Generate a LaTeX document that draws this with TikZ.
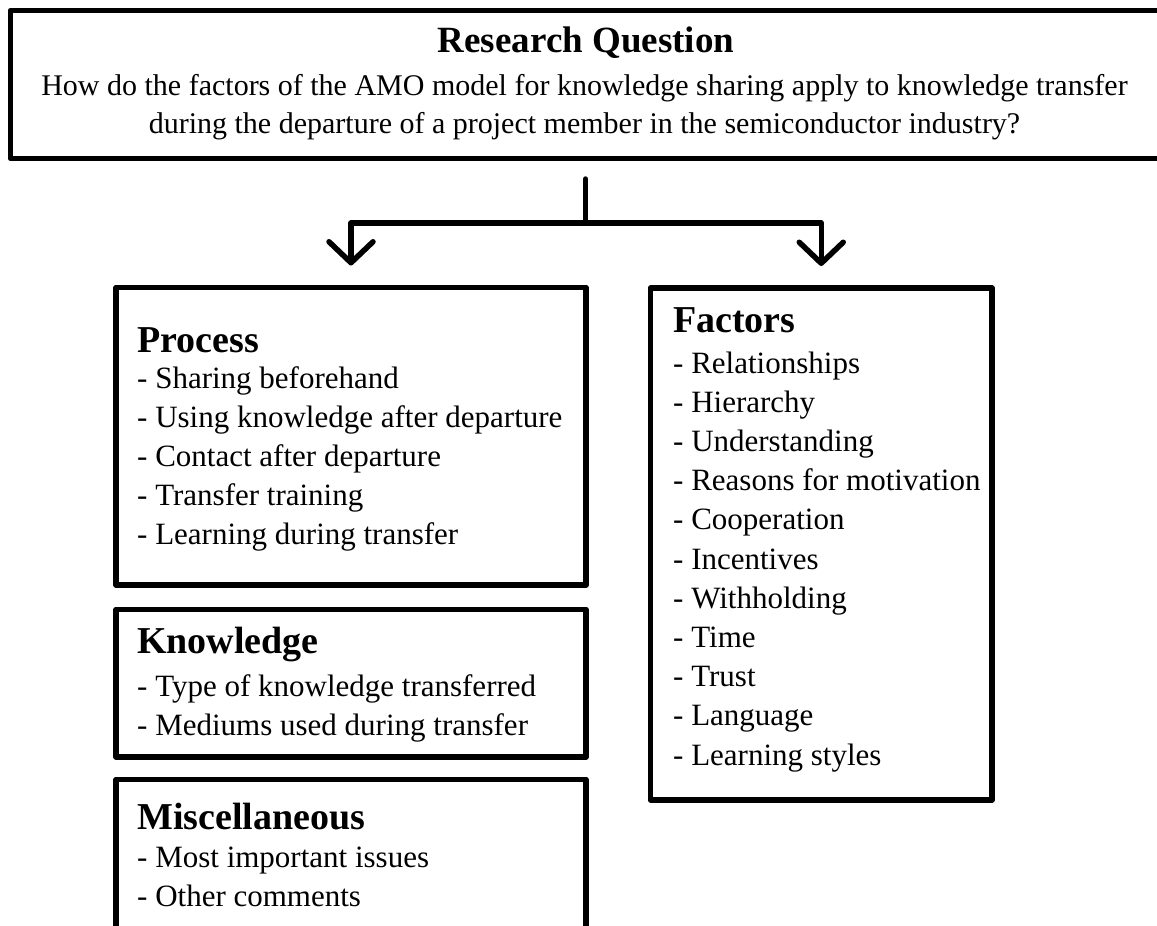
\documentclass[tikz,border=0pt]{standalone}
\usepackage{fontspec}
\setmainfont{Liberation Serif}
\usetikzlibrary{arrows.meta}
\begin{document}
\begin{tikzpicture}[x=1pt,y=-1pt,
  box/.style={draw=black,line width=5.5pt,line join=round,rectangle,inner sep=0pt,outer sep=0pt,fill=none},
  hd/.style={anchor=base west,inner sep=0pt,font=\bfseries\fontsize{38}{40}\selectfont},
  it/.style={anchor=base west,inner sep=0pt,font=\fontsize{31}{38}\selectfont},
  ln/.style={anchor=base,inner sep=0pt,font=\fontsize{30}{38}\selectfont},
  conn/.style={line width=5.5pt,line cap=round,line join=round},
  arr/.style={conn,-{Straight Barb[length=21pt,width=44pt,line cap=round,line join=round]},shorten >=22pt}]
\useasboundingbox (0,0) rectangle (1157,926);
\clip (0,0) rectangle (1157,926);
% boxes
\node[box,minimum width=1165pt,minimum height=148pt] (rq) at (593,84.5) {};
\node[box,minimum width=470pt,minimum height=297.5pt] (p) at (351,436.25) {};
\node[box,minimum width=470pt,minimum height=147.5pt] (k) at (351,683.25) {};
\node[box,minimum width=470pt,minimum height=161pt] (m) at (351,860) {};
\node[box,minimum width=341.5pt,minimum height=512pt] (f) at (821.25,544) {};
% research question
\node[anchor=base,inner sep=0pt,font=\bfseries\fontsize{37}{40}\selectfont] (t0) at (586,52) {Research Question};
\node[ln] (t1) at (584.5,95) {How do the factors of the AMO model for knowledge sharing apply to knowledge transfer};
\node[ln] (t2) at (584.5,133.5) {during the departure of a project member in the semiconductor industry?};
% process
\node[hd] (p0) at (137,352) {Process};
\node[it] (p1) at (137,388) {- Sharing beforehand};
\node[it] (p2) at (137,427) {- Using knowledge after departure};
\node[it] (p3) at (137,466) {- Contact after departure};
\node[it] (p4) at (137,505) {- Transfer training};
\node[it] (p5) at (137,544) {- Learning during transfer};
% knowledge
\node[hd] (k0) at (137,653) {Knowledge};
\node[it] (k1) at (137,696) {- Type of knowledge transferred};
\node[it] (k2) at (137,735) {- Mediums used during transfer};
% misc
\node[hd] (m0) at (137,829) {Miscellaneous};
\node[it] (m1) at (137,867) {- Most important issues};
\node[it] (m2) at (137,906) {- Other comments};
% factors
\node[hd] (f0) at (673,332) {Factors};
\node[it] (f1) at (673,373) {- Relationships};
\node[it] (f2) at (673,412.2) {- Hierarchy};
\node[it] (f3) at (673,451.4) {- Understanding};
\node[it] (f4) at (673,490.6) {- Reasons for motivation};
\node[it] (f5) at (673,529.8) {- Cooperation};
\node[it] (f6) at (673,569) {- Incentives};
\node[it] (f7) at (673,608.2) {- Withholding};
\node[it] (f8) at (673,647.4) {- Time};
\node[it] (f9) at (673,686.6) {- Trust};
\node[it] (f10) at (673,725.8) {- Language};
\node[it] (f11) at (673,765) {- Learning styles};
% connectors
\coordinate (c0) at (585.5,179);
\coordinate (j) at (585.5,223);
\draw[conn] (c0) -- (j);
\draw[arr] (j) -| (p.north);
\draw[arr] (j) -| (f.north);
\end{tikzpicture}
\end{document}
